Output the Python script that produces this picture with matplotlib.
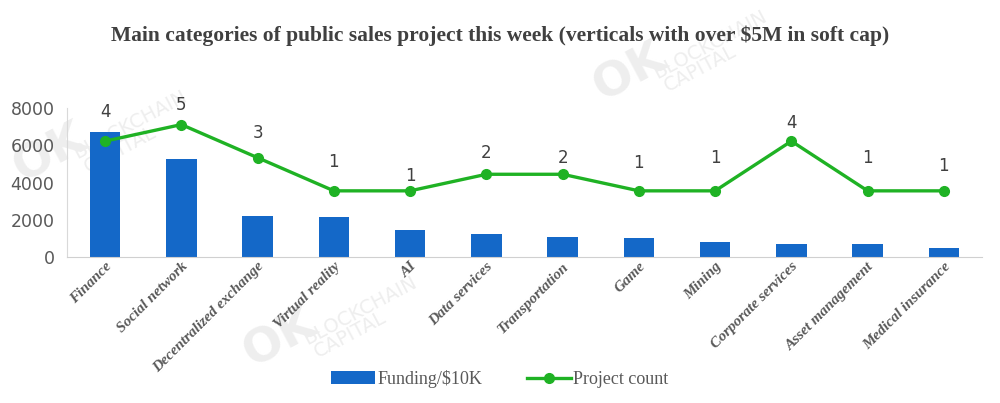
import matplotlib
matplotlib.use("Agg")
import matplotlib.pyplot as plt
import numpy as np

categories = ["Finance", "Social network", "Decentralized exchange", "Virtual reality", "AI",
              "Data services", "Transportation", "Game", "Mining", "Corporate services",
              "Asset management", "Medical insurance"]
funding = [6700, 5250, 2200, 2150, 1480, 1230, 1090, 1000, 790, 700, 700, 470]
counts = [4, 5, 3, 1, 1, 2, 2, 1, 1, 4, 1, 1]

# label offsets (points) above each marker, as placed in the original
label_dy = [21, 14, 18, 21, 11, 15, 12, 20, 24, 13, 24, 18]

blue = "#1468c8"
green = "#1fb224"
grey = "#595959"

fig = plt.figure(figsize=(10, 4.03), dpi=100)
ax = fig.add_axes([0.067, 0.362, 0.915, 0.370])
ax.patch.set_visible(False)
x = np.arange(len(categories))

ax.bar(x, funding, width=0.4, color=blue, label="Funding/$10K", zorder=2)
ax.set_xlim(-0.5, len(categories) - 0.5)
ax.set_ylim(0, 8000)
ax.set_yticks([0, 2000, 4000, 6000, 8000])
ax.tick_params(axis="y", length=0, labelsize=12.5, labelcolor=grey, pad=9)
ax.tick_params(axis="x", length=0, pad=2)
ax.set_xticks(x)
ax.set_xticklabels(categories, rotation=45, ha="right", rotation_mode="anchor",
                   family="Liberation Serif", fontweight="bold", fontstyle="italic",
                   fontsize=11, color=grey)
for s in ["top", "right"]:
    ax.spines[s].set_visible(False)
ax.spines["left"].set_color("#d9d9d9")
ax.spines["bottom"].set_color("#d0d0d0")

ax2 = ax.twinx()
ax2.patch.set_visible(False)
ax2.plot(x, counts, color=green, lw=2.4, marker="o", markersize=7, label="Project count", zorder=3)
ax2.set_ylim(-3, 6)
ax2.axis("off")
for xi, c, dy in zip(x, counts, label_dy):
    ax2.annotate(str(c), (xi, c), xytext=(0, dy), textcoords="offset points",
                 ha="center", va="center", fontsize=12, color="#404040")

fig.text(0.5, 0.912, "Main categories of public sales project this week (verticals with over $5M in soft cap)",
         ha="center", va="center", family="Liberation Serif", fontweight="bold", fontsize=15.5, color="#404040")

# watermarks
wm = dict(color="#eeeeee", rotation=28, zorder=-1, ha="center", va="center")
for (wx, wy) in [(0.10, 0.66), (0.33, 0.20), (0.68, 0.86)]:
    fig.text(wx - 0.05, wy - 0.04, "OK", fontsize=34, fontweight="bold", **wm)
    fig.text(wx + 0.03, wy + 0.03, "BLOCKCHAIN", fontsize=14, **wm)
    fig.text(wx + 0.02, wy - 0.03, "CAPITAL", fontsize=14, **wm)

h1, l1 = ax.get_legend_handles_labels()
h2, l2 = ax2.get_legend_handles_labels()
fig.legend(h1 + h2, l1 + l2, loc="center", bbox_to_anchor=(0.5, 0.06), ncol=2, frameon=False,
           prop={"family": "Liberation Serif", "size": 13}, labelcolor=grey,
           handlelength=2.4, handletextpad=0.15, columnspacing=2.5)

fig.savefig("out.png", dpi=100)
